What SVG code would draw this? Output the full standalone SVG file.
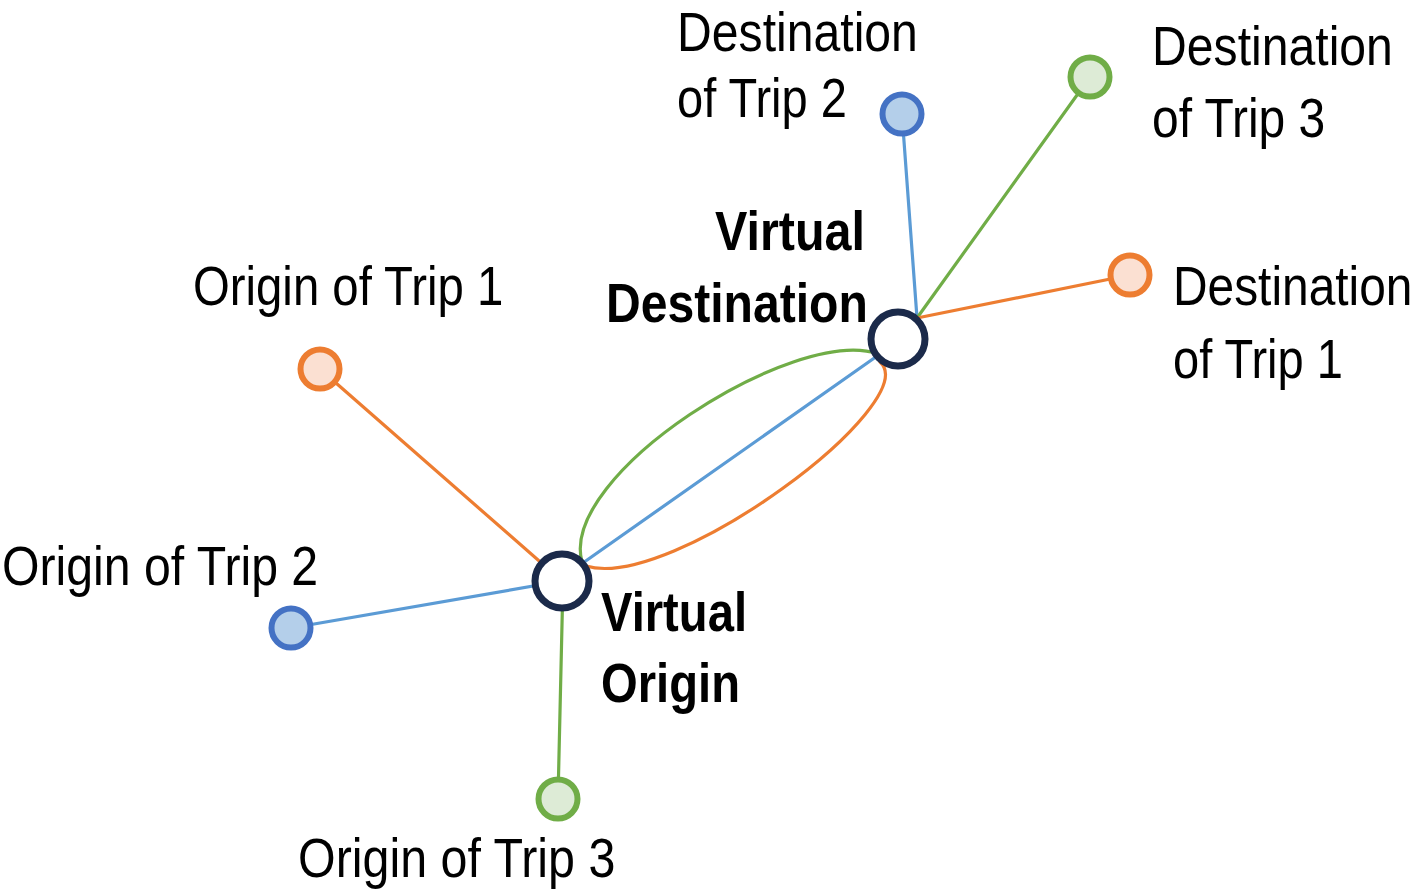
<svg xmlns="http://www.w3.org/2000/svg" width="1417" height="895" viewBox="0 0 1417 895">
<style>
.lbl{font-family:"Liberation Sans",Arial,sans-serif;font-size:56px;fill:#000}
.bold{font-weight:bold}
.c{stroke-width:3.2;fill:none;stroke-linecap:round}
.or{stroke:#ED7D31}
.bl{stroke:#5B9BD5}
.gr{stroke:#70AD47}
.sm{stroke-width:6}
.orn{stroke:#ED7D31;fill:#FBE0D2}
.bln{stroke:#4472C4;fill:#B4CFEA}
.grn{stroke:#70AD47;fill:#DDEBD6}
.vn{stroke:#1B2A4A;stroke-width:7;fill:#fff}
</style>
<rect width="1417" height="895" fill="#fff"/>
<g id="connectors">
<line class="c or" x1="320" y1="369" x2="562" y2="581"/>
<line class="c bl" x1="291" y1="628" x2="562" y2="581"/>
<line class="c gr" x1="558" y1="799" x2="563" y2="581"/>
<line class="c bl" x1="902" y1="114" x2="917" y2="318"/>
<line class="c gr" x1="1090" y1="77" x2="917" y2="318"/>
<line class="c or" x1="1130" y1="275" x2="917" y2="318"/>
<line class="c bl" x1="580" y1="565" x2="880" y2="354"/>
<path class="c gr" stroke-width="3.8" d="M582,562 C558,475 795,325 878,354"/>
<path class="c or" stroke-width="3.8" d="M586,566 C672,592 925,402 880,362"/>
</g>
<g id="origin-trip-1">
<circle class="sm orn" cx="320" cy="369" r="19.5"/>
<text class="lbl" transform="translate(193,305) scale(0.845,1)">Origin of Trip 1</text>
</g>
<g id="origin-trip-2">
<circle class="sm bln" cx="291" cy="628" r="19.5"/>
<text class="lbl" transform="translate(2,585) scale(0.861,1)">Origin of Trip 2</text>
</g>
<g id="origin-trip-3">
<circle class="sm grn" cx="558" cy="799" r="19.5"/>
<text class="lbl" transform="translate(298,877) scale(0.864,1)">Origin of Trip 3</text>
</g>
<g id="destination-trip-2">
<circle class="sm bln" cx="902" cy="114" r="19.5"/>
<text class="lbl" transform="translate(677,51) scale(0.86,1)">Destination</text>
<text class="lbl" transform="translate(677,117) scale(0.84,1)">of Trip 2</text>
</g>
<g id="destination-trip-3">
<circle class="sm grn" cx="1090" cy="77" r="19.5"/>
<text class="lbl" transform="translate(1152,65) scale(0.86,1)">Destination</text>
<text class="lbl" transform="translate(1152,137) scale(0.857,1)">of Trip 3</text>
</g>
<g id="destination-trip-1">
<circle class="sm orn" cx="1130" cy="275" r="19.5"/>
<text class="lbl" transform="translate(1173,305) scale(0.855,1)">Destination</text>
<text class="lbl" transform="translate(1173,378) scale(0.84,1)">of Trip 1</text>
</g>
<g id="virtual-destination">
<circle class="vn" cx="898" cy="339" r="27"/>
<text class="lbl bold" transform="translate(715,250) scale(0.866,1)">Virtual</text>
<text class="lbl bold" transform="translate(606,322) scale(0.859,1)">Destination</text>
</g>
<g id="virtual-origin">
<circle class="vn" cx="562" cy="581" r="27"/>
<text class="lbl bold" transform="translate(601,631) scale(0.843,1)">Virtual</text>
<text class="lbl bold" transform="translate(601,702) scale(0.843,1)">Origin</text>
</g>
</svg>
